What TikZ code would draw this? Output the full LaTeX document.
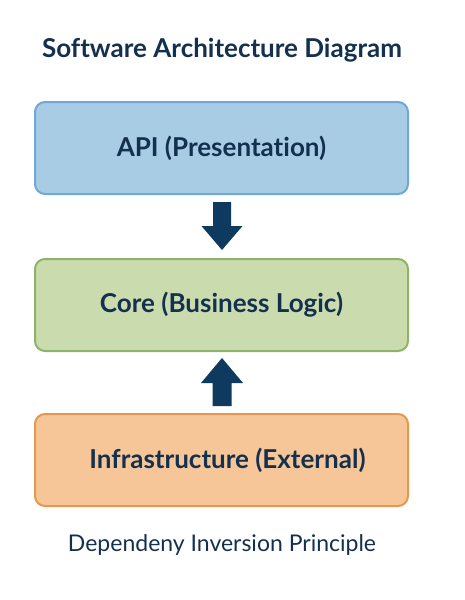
\documentclass[tikz,border=0pt]{standalone}
\usepackage{fontspec}
\setmainfont{Lato}[Ligatures={NoCommon,NoDiscretionary}]
\definecolor{navy}{HTML}{14304F}
\definecolor{arrowc}{HTML}{0E3A5F}
\definecolor{apifill}{HTML}{A9CCE5}
\definecolor{apidraw}{HTML}{6FA8D6}
\definecolor{corefill}{HTML}{CADBAE}
\definecolor{coredraw}{HTML}{8DB36A}
\definecolor{infrafill}{HTML}{F6C698}
\definecolor{infradraw}{HTML}{E5984E}
\begin{document}
\begin{tikzpicture}[x=1pt,y=-1pt,
  layer/.style={rounded corners=10pt, line width=2pt, minimum width=373pt, minimum height=92pt, inner sep=0pt, text=navy, font=\fontsize{26}{30}\selectfont\bfseries},
  bigarrow/.style={fill=arrowc, draw=none}]
\useasboundingbox (0,0) rectangle (465,600);
\node[text=navy, font=\fontsize{26}{30}\selectfont\bfseries] (title) at (222,50) {Software Architecture Diagram};
\node[layer, fill=apifill, draw=apidraw] (api) at (221.5,148) {API (Presentation)};
\node[layer, fill=corefill, draw=coredraw] (core) at (221.5,305) {Core (Business Logic)};
\node[layer, fill=infrafill, draw=infradraw] (infra) at (221.5,460) {\hspace{12pt}Infrastructure (External)};
\node[text=navy, font=\fontsize{23}{27}\selectfont] (caption) at (222,545) {Dependeny Inversion Principle};
% down arrow api -> core
\coordinate (d1) at (api.south -| 222,0);
\coordinate (d2) at (core.north -| 222,0);
\fill[bigarrow] ([shift={(-9,7)}]d1) -- ([shift={(9,7)}]d1)
  -- ([shift={(9,-32)}]d2) -- ([shift={(20.5,-32)}]d2)
  -- ([shift={(0,-8)}]d2) -- ([shift={(-20.5,-32)}]d2)
  -- ([shift={(-9,-32)}]d2) -- cycle;
% up arrow infra -> core
\coordinate (u1) at (infra.north -| 222,0);
\coordinate (u2) at (core.south -| 222,0);
\fill[bigarrow] ([shift={(-9.5,-7)}]u1) -- ([shift={(9.5,-7)}]u1)
  -- ([shift={(9.5,31)}]u2) -- ([shift={(21,31)}]u2)
  -- ([shift={(0,6)}]u2) -- ([shift={(-21,31)}]u2)
  -- ([shift={(-9.5,31)}]u2) -- cycle;
\end{tikzpicture}
\end{document}
